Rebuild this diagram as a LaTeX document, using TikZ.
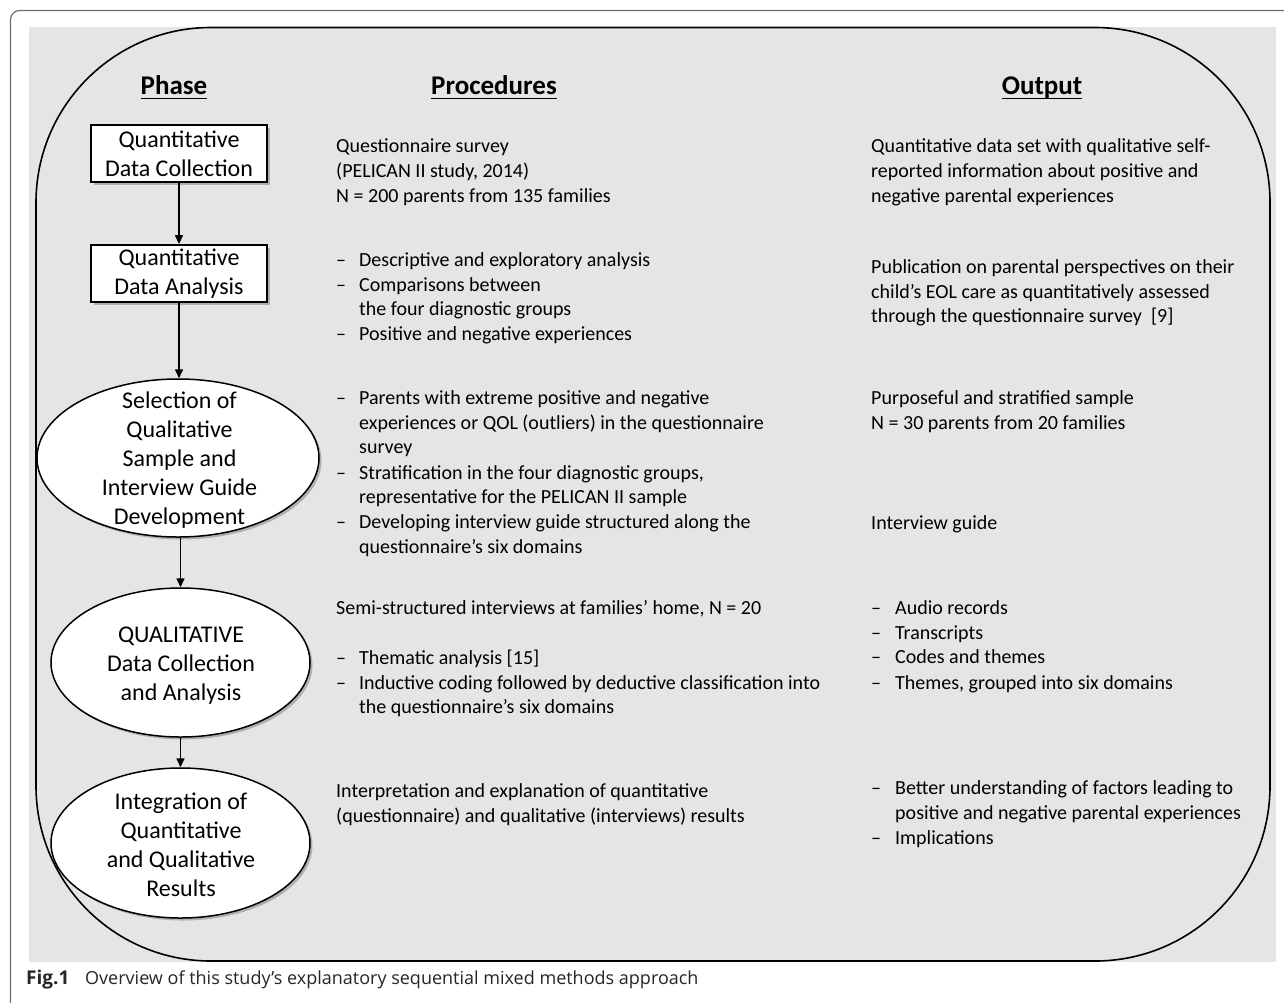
\documentclass[tikz,border=0pt]{standalone}
\usepackage{fontspec}
\setmainfont{Carlito}
\newfontfamily\capfont{Open Sans}
\usetikzlibrary{arrows.meta,shapes.geometric,shadows}
\definecolor{bgfill}{RGB}{230,229,230}
\definecolor{framegray}{RGB}{110,110,110}
\newcommand\mydash[1][23pt]{\makebox[#1][l]{\textendash}}
\begin{document}
\begin{tikzpicture}[x=1pt,y=-1pt,
  txt/.style={anchor=base west,inner sep=0pt,font=\fontsize{20}{24.5}\selectfont},
  hdr/.style={anchor=base,inner sep=0pt,font=\bfseries\fontsize{27}{31}\selectfont},
  shadowed/.style={drop shadow={shadow xshift=2.5pt,shadow yshift=-2.5pt,fill=black!45,opacity=0.6}},
  pbox/.style={draw,line width=1.8pt,fill=white,shadowed,minimum width=176pt,minimum height=57pt,
    inner sep=0pt,align=center,font=\fontsize{24}{29}\selectfont},
  pell/.style={ellipse,draw,line width=1.5pt,fill=white,shadowed,inner sep=0pt},
  ptext/.style={align=center,inner sep=0pt,font=\fontsize{24}{29}\selectfont},
  arr/.style={line width=1.5pt,-{Triangle[length=9pt,width=8pt]}},
  uline/.style={line width=1.8pt}
]
\useasboundingbox (0,0) rectangle (1284,1002);
\fill[white] (0,0) rectangle (1284,1002);
\draw[framegray,line width=1.2pt,rounded corners=9pt] (10.5,10.5) rectangle (1300,1012);
\fill[bgfill] (29,27) rectangle (1276,962);
\draw[line width=1.6pt,rounded corners=175pt] (36,27.5) rectangle (1270,961);

% headers
\node[hdr] (hphase) at (174,94) {Phase};
\node[hdr] (hproc) at (494,94) {Procedures};
\node[hdr] (hout) at (1042,94) {Output};
\foreach \h in {hphase,hproc,hout}
  \draw[uline] ([yshift=-4.5pt]\h.base west) -- ([yshift=-4.5pt]\h.base east);

% phase column
\node[pbox] (b1) at (179,153.5) {Quantitative\\Data Collection};
\node[pbox] (b2) at (179,273.5) {Quantitative\\Data Analysis};
\node[pell,minimum width=282pt,minimum height=158pt] (e1) at (178,458) {};
\node[ptext] (e1t) at (179.5,460.5) {Selection of\\Qualitative\\Sample and\\Interview Guide\\Development};
\node[pell,minimum width=259pt,minimum height=149pt] (e2) at (180.5,662.5) {};
\node[ptext] (e2t) at (181,666) {QUALITATIVE\\Data Collection\\and Analysis};
\node[pell,minimum width=259pt,minimum height=150pt] (e3) at (180.5,843) {};
\node[ptext] (e3t) at (181,845) {Integration of\\Quantitative\\and Qualitative\\Results};

\draw[arr] (b1) -- (b2);
\draw[arr] (b2.south) -- (b2.south |- e1.north);
\draw[arr] (e1.south -| e2.north) -- (e2.north);
\draw[arr] (e2) -- (e3);

% procedures column
\foreach \yy/\tx in {
  152/{Questionnaire survey},
  177/{(PELICAN II study, 2014)},
  202/{N = 200 parents from 135 families},
  266/{\mydash Descriptive and exploratory analysis},
  291/{\mydash Comparisons between},
  315/{\hspace*{23pt}the four diagnostic groups},
  340/{\mydash Positive and negative experiences},
  404/{\mydash Parents with extreme positive and negative},
  429/{\hspace*{23pt}experiences or QOL (outliers) in the questionnaire},
  453/{\hspace*{23pt}survey},
  479/{\mydash Stratification in the four diagnostic groups,},
  503/{\hspace*{23pt}representative for the PELICAN II sample},
  528/{\mydash Developing interview guide structured along the},
  553/{\hspace*{23pt}questionnaire’s six domains},
  614/{Semi-structured interviews at families’ home, N = 20},
  664/{\mydash Thematic analysis [15]},
  689/{\mydash Inductive coding followed by deductive classification into},
  713/{\hspace*{23pt}the questionnaire’s six domains},
  797/{Interpretation and explanation of quantitative},
  822/{(questionnaire) and qualitative (interviews) results}}
  \node[txt] (p\yy) at (336,\yy) {\tx};

% output column
\foreach \yy/\tx in {
  152/{Quantitative data set with qualitative self-},
  177/{reported information about positive and},
  202/{negative parental experiences},
  273/{Publication on parental perspectives on their},
  298/{child’s EOL care as quantitatively assessed},
  322/{through the questionnaire survey\ \ [9]},
  404/{Purposeful and stratified sample},
  429/{N = 30 parents from 20 families},
  529/{Interview guide},
  614/{\mydash[24pt]Audio records},
  639/{\mydash[24pt]Transcripts},
  663/{\mydash[24pt]Codes and themes},
  689/{\mydash[24pt]Themes, grouped into six domains},
  794/{\mydash[24pt]Better understanding of factors leading to},
  819/{\hspace*{24pt}positive and negative parental experiences},
  844/{\mydash[24pt]Implications}}
  \node[txt] (o\yy) at (871,\yy) {\tx};

% caption
\node[anchor=base west,inner sep=0pt,text=black!85,font=\capfont\fontsize{18}{20}\selectfont] (cap) at (26,984)
  {\makebox[59pt][l]{\fontsize{19}{20}\selectfont\textbf{Fig.1}}Overview of this study’s explanatory sequential mixed methods approach};
\end{tikzpicture}
\end{document}
